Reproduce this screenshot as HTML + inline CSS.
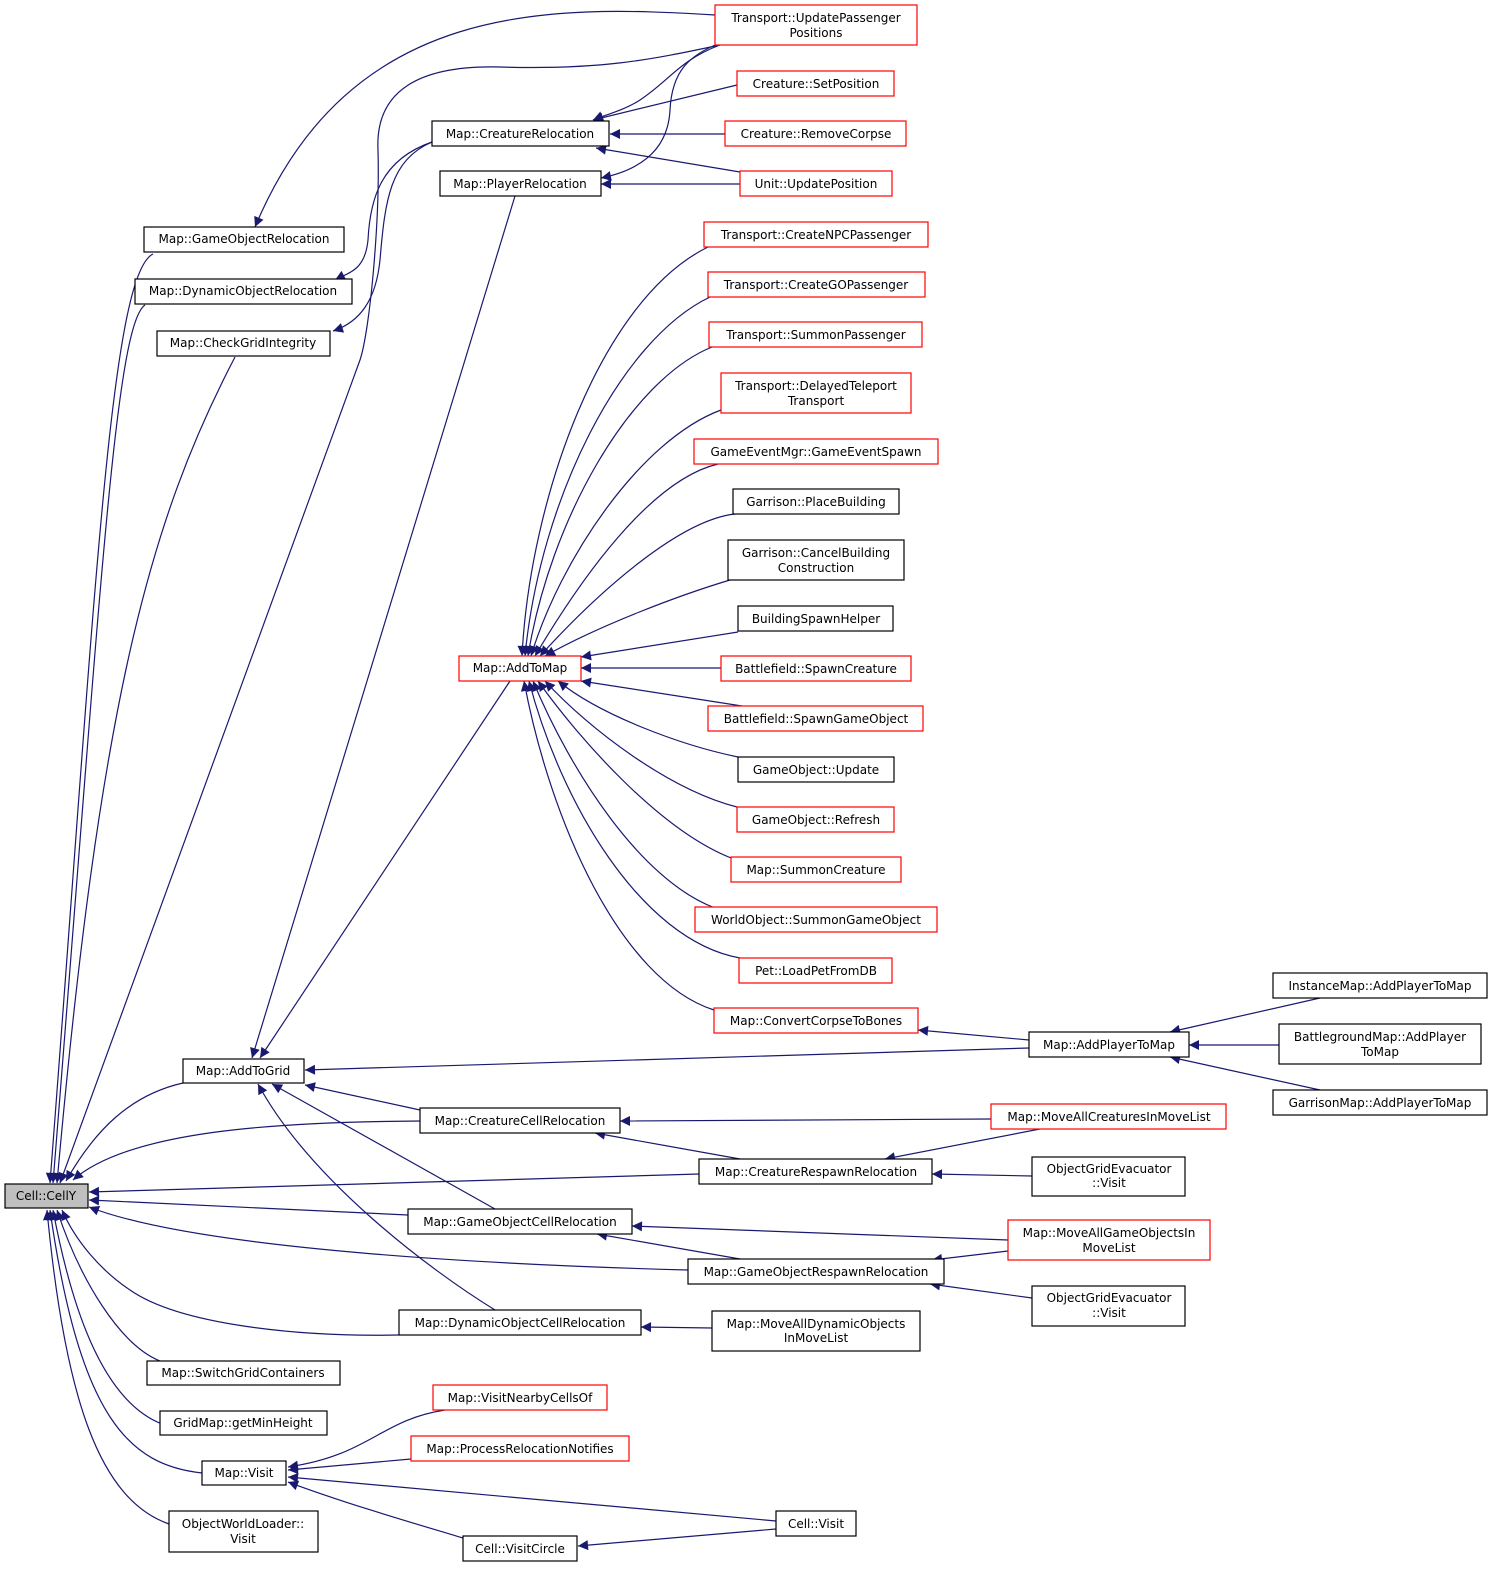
<!DOCTYPE html>
<html><head><meta charset="utf-8"><style>
body{margin:0;background:#fff}
svg text{font-family:"DejaVu Sans","Liberation Sans",sans-serif;font-size:12px;fill:#000}
</style></head><body>
<svg width="1503" height="1579" viewBox="0 0 1503 1579" xmlns="http://www.w3.org/2000/svg">
<defs><marker id="a" viewBox="0 0 10 10" refX="10" refY="5" markerWidth="14" markerHeight="10" markerUnits="userSpaceOnUse" orient="auto"><path d="M0,0 L10,5 L0,10 z" fill="#191970"/></marker></defs>
<g fill="none" stroke="#191970" stroke-width="1.2" marker-end="url(#a)">
<path d="M153,254 C110,275 95,600 50,1183"/>
<path d="M145,305 C115,325 100,600 53,1183"/>
<path d="M235,357 C150,520 100,700 57,1183"/>
<path d="M720,45 C650,60 600,70 500,67 C420,65 375,90 378,150 C380,220 370,330 360,360 L60,1183"/>
<path d="M183,1083 C130,1095 95,1130 66,1181"/>
<path d="M420,1121 C280,1122 130,1130 73,1180"/>
<path d="M699,1174 L89,1192"/>
<path d="M408,1215 L89,1200"/>
<path d="M688,1270 C500,1265 200,1250 89,1207"/>
<path d="M399,1335 C300,1337 180,1325 130,1290 C100,1270 75,1240 62,1210"/>
<path d="M160,1361 C120,1345 80,1280 57,1210"/>
<path d="M162,1424 C100,1400 70,1300 53,1210"/>
<path d="M202,1473 C130,1465 80,1420 50,1210"/>
<path d="M169,1524 C100,1500 65,1400 47,1210"/>
<path d="M715,15 C550,5 350,0 255,227"/>
<path d="M432,142 C380,160 370,200 368,240 C365,270 350,272 335,280"/>
<path d="M432,142 C390,160 385,200 380,260 C376,300 360,322 333,331"/>
<path d="M515,196 L252,1058"/>
<path d="M510,681 L260,1058"/>
<path d="M420,1110 L305,1085"/>
<path d="M495,1209 L272,1084"/>
<path d="M495,1310 C430,1270 310,1180 258,1084"/>
<path d="M1029,1048 L305,1070"/>
<path d="M445,1410 C380,1420 370,1455 288,1467"/>
<path d="M411,1459 L288,1470"/>
<path d="M776,1521 L288,1477"/>
<path d="M463,1538 C420,1525 350,1505 288,1482"/>
<path d="M776,1529 L578,1546"/>
<path d="M737,85 L593,120"/>
<path d="M725,134 L610,134"/>
<path d="M740,172 L596,148"/>
<path d="M720,45 C680,60 670,80 640,100 C625,110 605,115 593,120"/>
<path d="M740,184 L601,184"/>
<path d="M720,43 C690,55 672,70 670,110 C668,150 640,170 601,178"/>
<path d="M708,247 C600,300 530,500 522,656"/>
<path d="M710,297 C620,340 540,500 525,656"/>
<path d="M712,347 C630,380 550,520 528,656"/>
<path d="M721,410 C640,440 560,560 531,656"/>
<path d="M718,464 C650,480 580,580 535,656"/>
<path d="M735,514 C680,520 600,590 540,656"/>
<path d="M730,580 C680,595 600,625 545,656"/>
<path d="M738,632 L581,657"/>
<path d="M721,668 L581,668"/>
<path d="M742,706 L581,681"/>
<path d="M738,757 C680,745 600,715 558,681"/>
<path d="M737,807 C670,790 590,730 545,681"/>
<path d="M731,858 C660,830 580,740 538,681"/>
<path d="M715,908 C640,880 570,770 533,681"/>
<path d="M740,958 C640,940 560,800 529,681"/>
<path d="M714,1010 C620,980 550,820 524,681"/>
<path d="M1029,1040 L918,1030"/>
<path d="M1320,998 L1170,1032"/>
<path d="M1279,1045 L1189,1045"/>
<path d="M1320,1090 L1170,1057"/>
<path d="M991,1119 L620,1121"/>
<path d="M740,1159 L595,1133"/>
<path d="M1040,1129 L885,1159"/>
<path d="M1032,1176 L932,1174"/>
<path d="M1008,1240 L632,1226"/>
<path d="M740,1259 L597,1234"/>
<path d="M1008,1251 L932,1260"/>
<path d="M1032,1298 L930,1284"/>
<path d="M712,1328 L641,1327"/>
</g>
<g stroke-width="1.2">
<rect x="5" y="1184" width="83" height="24" fill="#bfbfbf" stroke="#000"/>
<g fill="#fff" stroke="#000">
<rect x="144" y="227" width="200" height="25"/><rect x="135" y="279" width="217" height="25"/>
<rect x="157" y="331" width="173" height="25"/><rect x="183" y="1059" width="121" height="24"/>
<rect x="147" y="1361" width="193" height="24"/><rect x="160" y="1411" width="167" height="24"/>
<rect x="202" y="1461" width="84" height="24"/><rect x="169" y="1511" width="149" height="41"/>
<rect x="432" y="121" width="177" height="25"/><rect x="440" y="171" width="161" height="25"/>
<rect x="420" y="1108" width="200" height="25"/><rect x="408" y="1209" width="224" height="25"/>
<rect x="399" y="1310" width="242" height="25"/><rect x="463" y="1536" width="114" height="25"/>
<rect x="733" y="489" width="166" height="25"/><rect x="728" y="540" width="176" height="40"/>
<rect x="738" y="606" width="155" height="25"/><rect x="738" y="757" width="156" height="25"/>
<rect x="699" y="1159" width="233" height="25"/><rect x="688" y="1259" width="256" height="25"/>
<rect x="712" y="1311" width="208" height="40"/><rect x="776" y="1511" width="80" height="25"/>
<rect x="1029" y="1032" width="160" height="25"/><rect x="1032" y="1157" width="153" height="39"/>
<rect x="1032" y="1286" width="153" height="40"/><rect x="1273" y="973" width="214" height="25"/>
<rect x="1279" y="1024" width="202" height="40"/><rect x="1273" y="1090" width="214" height="25"/>
</g>
<g fill="#fff" stroke="#f00">
<rect x="459" y="656" width="122" height="25"/><rect x="433" y="1385" width="174" height="25"/>
<rect x="411" y="1436" width="218" height="25"/><rect x="715" y="5" width="202" height="40"/>
<rect x="737" y="71" width="157" height="25"/><rect x="725" y="121" width="181" height="25"/>
<rect x="740" y="171" width="152" height="25"/><rect x="704" y="222" width="224" height="25"/>
<rect x="708" y="272" width="217" height="25"/><rect x="709" y="322" width="213" height="25"/>
<rect x="721" y="373" width="190" height="40"/><rect x="694" y="439" width="244" height="25"/>
<rect x="721" y="656" width="190" height="25"/><rect x="708" y="706" width="215" height="25"/>
<rect x="737" y="807" width="157" height="25"/><rect x="731" y="857" width="170" height="25"/>
<rect x="695" y="907" width="242" height="25"/><rect x="739" y="958" width="153" height="25"/>
<rect x="714" y="1008" width="204" height="25"/><rect x="991" y="1104" width="235" height="25"/>
<rect x="1008" y="1220" width="202" height="40"/>
</g></g>
<g text-anchor="middle">
<text x="46" y="1200">Cell::CellY</text>
<text x="244" y="243">Map::GameObjectRelocation</text>
<text x="243" y="295">Map::DynamicObjectRelocation</text>
<text x="243" y="347">Map::CheckGridIntegrity</text>
<text x="243" y="1075">Map::AddToGrid</text>
<text x="243" y="1377">Map::SwitchGridContainers</text>
<text x="243" y="1427">GridMap::getMinHeight</text>
<text x="244" y="1477">Map::Visit</text>
<text x="243" y="1528">ObjectWorldLoader::</text><text x="243" y="1543">Visit</text>
<text x="520" y="138">Map::CreatureRelocation</text>
<text x="520" y="188">Map::PlayerRelocation</text>
<text x="520" y="672">Map::AddToMap</text>
<text x="520" y="1125">Map::CreatureCellRelocation</text>
<text x="520" y="1226">Map::GameObjectCellRelocation</text>
<text x="520" y="1327">Map::DynamicObjectCellRelocation</text>
<text x="520" y="1402">Map::VisitNearbyCellsOf</text>
<text x="520" y="1453">Map::ProcessRelocationNotifies</text>
<text x="520" y="1553">Cell::VisitCircle</text>
<text x="816" y="22">Transport::UpdatePassenger</text><text x="816" y="37">Positions</text>
<text x="816" y="88">Creature::SetPosition</text>
<text x="816" y="138">Creature::RemoveCorpse</text>
<text x="816" y="188">Unit::UpdatePosition</text>
<text x="816" y="239">Transport::CreateNPCPassenger</text>
<text x="816" y="289">Transport::CreateGOPassenger</text>
<text x="816" y="339">Transport::SummonPassenger</text>
<text x="816" y="390">Transport::DelayedTeleport</text><text x="816" y="405">Transport</text>
<text x="816" y="456">GameEventMgr::GameEventSpawn</text>
<text x="816" y="506">Garrison::PlaceBuilding</text>
<text x="816" y="557">Garrison::CancelBuilding</text><text x="816" y="572">Construction</text>
<text x="816" y="623">BuildingSpawnHelper</text>
<text x="816" y="673">Battlefield::SpawnCreature</text>
<text x="816" y="723">Battlefield::SpawnGameObject</text>
<text x="816" y="774">GameObject::Update</text>
<text x="816" y="824">GameObject::Refresh</text>
<text x="816" y="874">Map::SummonCreature</text>
<text x="816" y="924">WorldObject::SummonGameObject</text>
<text x="816" y="975">Pet::LoadPetFromDB</text>
<text x="816" y="1025">Map::ConvertCorpseToBones</text>
<text x="816" y="1176">Map::CreatureRespawnRelocation</text>
<text x="816" y="1276">Map::GameObjectRespawnRelocation</text>
<text x="816" y="1328">Map::MoveAllDynamicObjects</text><text x="816" y="1342">InMoveList</text>
<text x="816" y="1528">Cell::Visit</text>
<text x="1109" y="1049">Map::AddPlayerToMap</text>
<text x="1109" y="1121">Map::MoveAllCreaturesInMoveList</text>
<text x="1109" y="1173">ObjectGridEvacuator</text><text x="1109" y="1187">::Visit</text>
<text x="1109" y="1237">Map::MoveAllGameObjectsIn</text><text x="1109" y="1252">MoveList</text>
<text x="1109" y="1302">ObjectGridEvacuator</text><text x="1109" y="1317">::Visit</text>
<text x="1380" y="990">InstanceMap::AddPlayerToMap</text>
<text x="1380" y="1041">BattlegroundMap::AddPlayer</text><text x="1380" y="1056">ToMap</text>
<text x="1380" y="1107">GarrisonMap::AddPlayerToMap</text>
</g>
</svg>
</body></html>
